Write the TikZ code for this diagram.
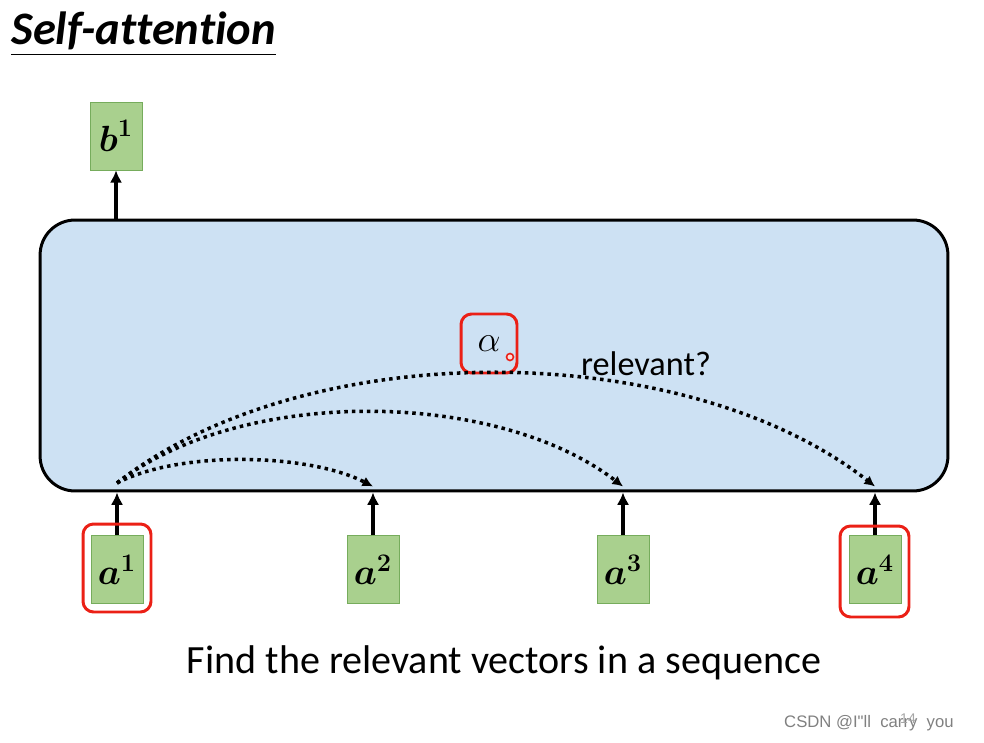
\documentclass[tikz,border=0pt]{standalone}
\usepackage{amsmath}
\usepackage{fontspec}
\setsansfont{Carlito}[Ligatures={NoCommon}]
\newfontfamily\wmfont{Liberation Sans}
\usetikzlibrary{positioning,arrows.meta}
\definecolor{layerblue}{RGB}{205,225,243}
\definecolor{vecgreen}{RGB}{169,208,142}
\definecolor{vecedge}{RGB}{118,172,92}
\definecolor{markred}{RGB}{235,32,22}
\tikzset{
  vec/.style={draw=vecedge, fill=vecgreen, minimum width=1.04cm, minimum height=1.36cm, inner sep=0pt, font=\fontsize{21}{25}\selectfont},
  redmark/.style={draw=markred, line width=1.7pt, rounded corners=6pt},
  relline/.style={line width=2pt, dash pattern=on 2pt off 2.3pt, -{Latex[length=6pt,width=6pt]}},
  uparrow/.style={line width=1.8pt, -{Latex[length=7pt,width=7pt]}},
}
\begin{document}
\begin{tikzpicture}[x=0.02cm,y=-0.02cm]
\useasboundingbox (0,0) rectangle (984,743);
% title
\node[anchor=base west, inner sep=0pt, font=\sffamily\bfseries\itshape\fontsize{26.5}{32}\selectfont] (title) at (11,45) {Self-attention};
\draw[line width=0.8pt] ([yshift=-2pt]title.south west) -- ([yshift=-2pt]title.south east);
% the self-attention layer
\node[draw, line width=1.7pt, fill=layerblue, rounded corners=0.7cm, minimum width=18.16cm, minimum height=5.42cm] (layer) at (494,355.5) {};
% inputs
\foreach \i/\x in {1/117,2/373,3/623,4/875} {
  \node[vec] (a\i) at (\x,569.5) {$\boldsymbol{a}^{\boldsymbol{\i}}$};
  \draw[uparrow] (a\i.north) -- (a\i |- layer.south);
  \coordinate (t\i) at ([yshift=0.12cm]a\i |- layer.south);
}
% output
\node[vec] (b1) at (116,136) {$\boldsymbol{b}^{\boldsymbol{1}}$};
\draw[uparrow] (b1 |- layer.north) -- (b1.south);
% highlighted vectors
\node[redmark, minimum width=1.36cm, minimum height=1.76cm] (m1) at (117,568) {};
\node[redmark, minimum width=1.38cm, minimum height=1.82cm] (m4) at (874.5,571.5) {};
% attention score
\node[redmark, minimum width=1.12cm, minimum height=1.18cm, font=\fontsize{20}{24}\selectfont] (alpha) at (489,343.5) {$\alpha$};
\draw[markred, line width=0.9pt, fill=markred!15] (510,357) circle (3.5);
\node[font=\sffamily\fontsize{19.5}{23}\selectfont] (rel) at (646,364) {relevant?};
% dotted relevance curves
\coordinate (src) at (117,483);
\draw[relline] (src) .. controls +(64,-33) and +(-64,-33) .. (t2);
\draw[relline] (src) .. controls +(126,-97) and +(-126,-97) .. (t3);
\draw[relline] (src) .. controls +(190,-149) and +(-190,-149) .. (t4);
% caption
\node[font=\sffamily\fontsize{22.8}{27}\selectfont] (caption) at (504,663) {Find the relevant vectors in a sequence};
\node[anchor=west, text=gray, font=\wmfont\fontsize{9.5}{11}\selectfont] (wm) at (778,723) {CSDN @I"ll\ \ carry\ \ you};
\node[text=gray!70, font=\wmfont\fontsize{8}{9}\selectfont] (page) at (908,719) {14};
\end{tikzpicture}
\end{document}
